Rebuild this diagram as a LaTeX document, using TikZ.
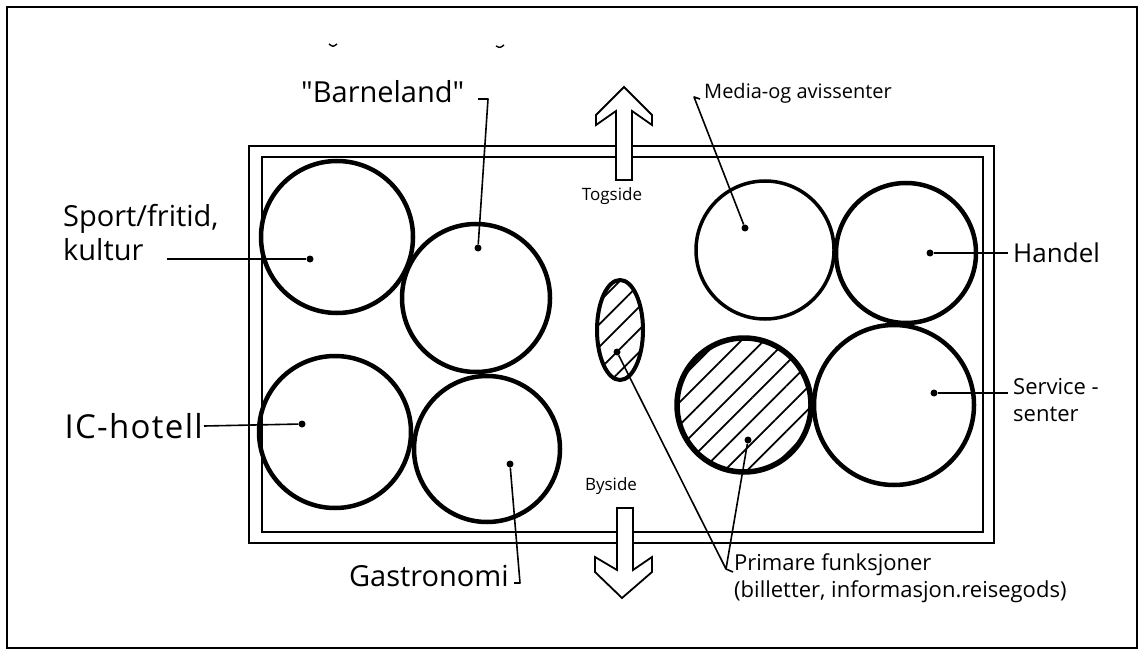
\documentclass[tikz,border=0pt]{standalone}
\usepackage{fontspec}
\setmainfont{Open Sans}
\usetikzlibrary{shapes.geometric,patterns.meta}

\tikzset{
  zone/.style={circle,draw,line width=4.5pt,inner sep=0pt},
  hatched/.style={pattern={Lines[angle=45,distance=16pt,line width=1.8pt]}},
  dotmark/.style={circle,fill,inner sep=0pt,minimum size=7pt},
  leader/.style={line width=1.6pt,line join=round},
  wall/.style={line width=1.8pt},
  gate/.style={line width=1.8pt,fill=white,line join=miter},
  lbl/.style={font=\fontsize{29}{34}\selectfont,inner sep=1pt},
  midlbl/.style={font=\fontsize{22}{27}\selectfont,inner sep=1pt,align=left},
  sidelbl/.style={font=\fontsize{17}{20}\selectfont,inner sep=1pt}
}

\begin{document}
\begin{tikzpicture}[x=1pt,y=-1pt]
    \useasboundingbox (0,0) rectangle (1142,652);
    % sheet frame
    \draw[line width=1.5pt] (7,7) rectangle (1137,648);

    % hall, double wall
    \draw[wall] (249,146) rectangle (994,543);
    \draw[wall] (262,157) rectangle (983,532);

    % train side / town side arrows
    \draw[gate] (624,87) -- (652,115) -- (652,125) -- (632,111) -- (632,180)
        -- (616,180) -- (616,111) -- (596,125) -- (596,115) -- cycle;
    \draw[gate] (617,508) -- (633,508) -- (633,570) -- (652,557) -- (652,572)
        -- (622,598) -- (595,572) -- (595,557) -- (617,570) -- cycle;
    \node[sidelbl] (tog) at (612,196) {Togside};
    \node[sidelbl] (by) at (611,486) {Byside};

    % function zones
    \node[zone,minimum size=152pt] (sport) at (337,237) {};
    \node[zone,minimum size=148pt] (barn) at (476,298) {};
    \node[zone,minimum size=152pt] (hotel) at (335,432) {};
    \node[zone,minimum size=146pt] (gastro) at (487,449) {};
    \node[zone,line width=3.5pt,minimum size=138pt] (media) at (765,250) {};
    \node[zone,minimum size=140pt] (handel) at (906,253) {};
    \node[zone,line width=5.5pt,hatched,minimum size=134pt] (counter) at (744,405) {};
    \node[zone,minimum size=160pt] (service) at (894,405) {};
    \node[ellipse,draw,line width=4pt,hatched,inner sep=0pt,
        minimum width=46pt,minimum height=100pt] (desk) at (620,330) {};

    % reference dots
    \node[dotmark] (sportpin) at (310,259) {};
    \node[dotmark] (barnpin) at (478,248) {};
    \node[dotmark] (hotelpin) at (302,424) {};
    \node[dotmark] (gastropin) at (510,464) {};
    \node[dotmark] (mediapin) at (745,228) {};
    \node[dotmark] (handelpin) at (930,253) {};
    \node[dotmark] (servicepin) at (934,393) {};
    \node[dotmark] (deskpin) at (617,352) {};
    \node[dotmark] (counterpin) at (748,440) {};

    % labels
    \node[lbl,anchor=south west] (sportlbl) at (62,235) {Sport/fritid,};
    \node[lbl,anchor=north west] (kulturlbl) at ([yshift=-2pt]sportlbl.south west) {kultur};
    \node[lbl,font=\fontsize{33}{38}\selectfont\addfontfeatures{LetterSpace=4},anchor=east] (hotellbl) at (204,426) {IC-hotell};
    \node[lbl,anchor=west] (barnlbl) at (300,92) {\textquotedbl Barneland\textquotedbl};
    \node[lbl,anchor=east] (gastrolbl) at (510,576) {Gastronomi};
    \node[lbl,font=\fontsize{20}{23}\selectfont,anchor=west] (medialbl) at (703,93) {Media-og avissenter};
    \node[lbl,font=\fontsize{26}{30}\selectfont,anchor=west] (handellbl) at (1012,253) {Handel};
    \node[midlbl,anchor=north west] (servicelbl) at (1012,377) {Service -\\senter};
    \node[midlbl,anchor=north west] (primlbl) at (733,552) {Primare funksjoner\\(billetter, informasjon.reisegods)};

    % hooks where leaders bend
    \coordinate (barnhook) at (488,99);
    \coordinate (mediahook) at (694,97);
    \coordinate (gastrohook) at (520,583);
    \coordinate (primhook) at (726,569);

    % leaders
    \draw[leader] ([xshift=22pt]kulturlbl.east |- sportpin) -- (sportpin);
    \draw[leader] (hotellbl.east) -- (hotelpin);
    \draw[leader] ([xshift=-10pt]barnhook) -- (barnhook) -- (barnpin);
    \draw[leader] ([xshift=6pt,yshift=-2pt]mediahook) -- (mediahook) -- (mediapin);
    \draw[leader] (gastropin) -- (gastrohook) -- ([xshift=-6pt]gastrohook);
    \draw[leader] (handelpin) -- ([xshift=-4pt]handellbl.west);
    \draw[leader] (servicepin) -- ([xshift=-4pt]servicelbl.west |- servicepin);
    \draw[leader] (deskpin) -- (primhook) -- (counterpin);
    \draw[leader] (primhook) -- ([yshift=-3pt]primhook -| primlbl.west);

    % stray pencil ticks at the top
    \draw[line width=1.4pt] (329,44) .. controls (333,47) .. (337,44);
    \draw[line width=1.4pt] (496,46) .. controls (500,48) .. (504,45);
\end{tikzpicture}
\end{document}
